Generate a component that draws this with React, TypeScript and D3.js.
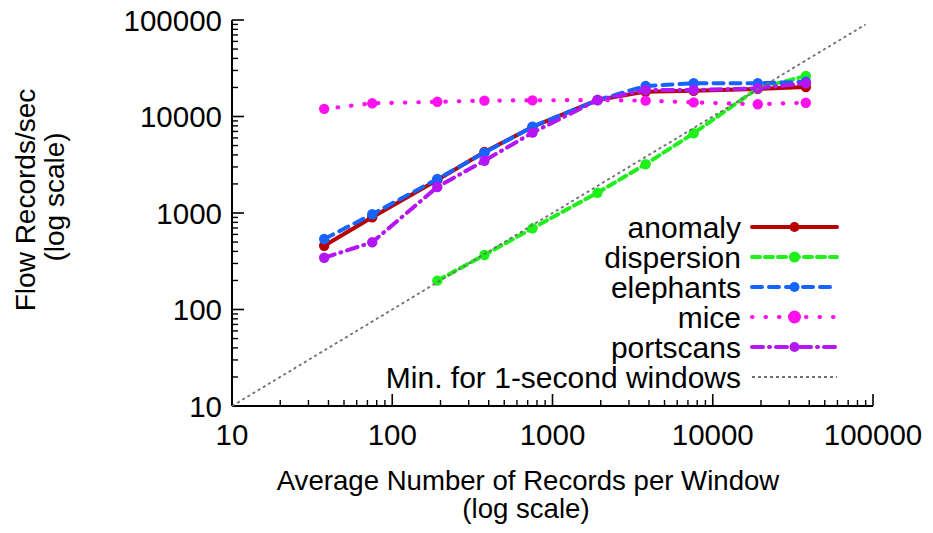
import React from "react";
import * as d3 from "d3";

const xValues = [37.6, 75, 191, 376, 750, 1910, 3810, 7600, 19100, 38100];
const anomaly = [458, 903, 2200, 4290, 7790, 14800, 18100, 18500, 19300, 20200];
const dispersionX = [191, 376, 750, 1910, 3810, 7600, 19100, 38100];
const dispersion = [199, 367, 694, 1622, 3200, 6700, 19600, 26300];
const elephants = [538, 970, 2250, 4220, 7840, 14800, 20700, 22100, 22100, 22900];
const mice = [12000, 13700, 14200, 14600, 14700, 14800, 14600, 14000, 13400, 13900];
const portscans = [344, 497, 1860, 3480, 6800, 14800, 18800, 18800, 19600, 22100];
const minLineX = [10, 90000];
const tickValues = [10, 100, 1000, 10000, 100000];
const tickLabels = ["10", "100", "1000", "10000", "100000"];

const FONT = "Liberation Sans, Arial, Helvetica, sans-serif";

type Series = {
  name: string;
  xs: number[];
  ys: number[];
  color: string;
  dash: string;
  width: number;
  r: number;
  legendR: number;
};

const series: Series[] = [
  { name: "anomaly", xs: xValues, ys: anomaly, color: "#b80000", dash: "", width: 4, r: 5.2, legendR: 5 },
  { name: "dispersion", xs: dispersionX, ys: dispersion, color: "#1ef01a", dash: "8,5", width: 4, r: 5.2, legendR: 5.5 },
  { name: "elephants", xs: xValues, ys: elephants, color: "#1763ff", dash: "10,7", width: 4, r: 5.2, legendR: 5 },
  { name: "mice", xs: xValues, ys: mice, color: "#ff10ee", dash: "0.5,13", width: 4.2, r: 5.2, legendR: 6.5 },
  { name: "portscans", xs: xValues, ys: portscans, color: "#b316f2", dash: "11,6,1,6", width: 4, r: 5.2, legendR: 5 },
];

export default function App() {
  const W = 933, H = 533;
  const x = d3.scaleLog().domain([10, 100000]).range([232, 873]);
  const y = d3.scaleLog().domain([10, 100000]).range([406, 20]);

  const minorTicks: number[] = [];
  for (let d = 10; d < 100000; d *= 10) {
    for (let k = 2; k <= 9; k++) minorTicks.push(d * k);
  }

  const line = d3
    .line<[number, number]>()
    .x((d) => x(d[0]))
    .y((d) => y(d[1]));

  const legendTextX = 741;
  const legendLineX0 = 752;
  const legendLineX1 = 837;
  const legendRowY = (i: number) => 227 + i * 30;

  return (
    <div style={{ position: "absolute", left: 0, top: 0 }}>
      <svg width={W} height={H} style={{ display: "block", background: "#fff" }} fontFamily={FONT}>
        {/* axes */}
        <line x1={x(10)} x2={x(100000)} y1={y(10)} y2={y(10)} stroke="#000" strokeWidth={2} />
        <line x1={x(10)} x2={x(10)} y1={y(10)} y2={y(100000)} stroke="#000" strokeWidth={2} />
        {tickValues.map((t) => (
          <g key={"mt" + t}>
            <line x1={x(t)} x2={x(t)} y1={y(10)} y2={y(10) - 12} stroke="#000" strokeWidth={1.6} />
            <line x1={x(10)} x2={x(10) + 12} y1={y(t)} y2={y(t)} stroke="#000" strokeWidth={1.6} />
          </g>
        ))}
        {minorTicks.map((t) => (
          <g key={"mn" + t}>
            <line x1={x(t)} x2={x(t)} y1={y(10)} y2={y(10) - 6} stroke="#000" strokeWidth={1.4} />
            <line x1={x(10)} x2={x(10) + 6} y1={y(t)} y2={y(t)} stroke="#000" strokeWidth={1.4} />
          </g>
        ))}
        {tickValues.map((t, i) => (
          <text key={"xl" + t} x={x(t)} y={445} textAnchor="middle" fontSize={29.5} fill="#000">
            {tickLabels[i]}
          </text>
        ))}
        {tickValues.map((t, i) => (
          <text key={"yl" + t} x={222} y={y(t)} dy="0.36em" textAnchor="end" fontSize={29.5} fill="#000">
            {tickLabels[i]}
          </text>
        ))}

        {/* axis titles */}
        <text x={528} y={490} textAnchor="middle" fontSize={27.6} fill="#000">
          Average Number of Records per Window
        </text>
        <text x={526} y={518} textAnchor="middle" fontSize={27.6} fill="#000">
          (log scale)
        </text>
        <text transform="translate(35,200) rotate(-90)" textAnchor="middle" fontSize={28} fill="#000">
          Flow Records/sec
        </text>
        <text transform="translate(64,197) rotate(-90)" textAnchor="middle" fontSize={28} fill="#000">
          (log scale)
        </text>

        {/* series */}
        {series.map((s) => {
          const pts: [number, number][] = s.xs.map((xv, i) => [xv, s.ys[i]]);
          return (
            <g key={s.name}>
              <path
                d={line(pts) || ""}
                fill="none"
                stroke={s.color}
                strokeWidth={s.width}
                strokeDasharray={s.dash || undefined}
                strokeLinecap="round"
                strokeLinejoin="round"
              />
              {pts.map((p, i) => (
                <circle key={i} cx={x(p[0])} cy={y(p[1])} r={s.r} fill={s.color} />
              ))}
            </g>
          );
        })}

        {/* min line y = x */}
        <path
          d={line(minLineX.map((v) => [v, v] as [number, number])) || ""}
          fill="none"
          stroke="#707070"
          strokeWidth={1.8}
          strokeDasharray="3,3"
        />

        {/* legend */}
        {series.map((s, i) => (
          <g key={"lg" + s.name}>
            <text x={legendTextX} y={legendRowY(i)} dy="0.36em" textAnchor="end" fontSize={30} fill="#000">
              {s.name}
            </text>
            <line
              x1={legendLineX0}
              x2={legendLineX1}
              y1={legendRowY(i)}
              y2={legendRowY(i)}
              stroke={s.color}
              strokeWidth={s.width}
              strokeDasharray={s.dash || undefined}
              strokeLinecap="round"
            />
            <circle cx={(legendLineX0 + legendLineX1) / 2} cy={legendRowY(i)} r={s.legendR} fill={s.color} />
          </g>
        ))}
        <text x={legendTextX} y={legendRowY(5)} dy="0.36em" textAnchor="end" fontSize={30} fill="#000">
          Min. for 1-second windows
        </text>
        <line
          x1={legendLineX0}
          x2={legendLineX1}
          y1={legendRowY(5)}
          y2={legendRowY(5)}
          stroke="#707070"
          strokeWidth={1.8}
          strokeDasharray="3,3"
        />
      </svg>
    </div>
  );
}
